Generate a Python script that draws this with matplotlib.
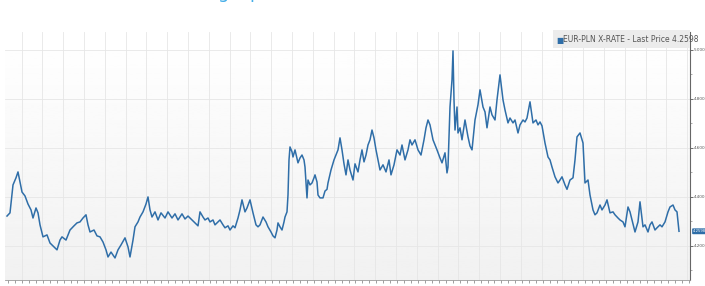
import numpy as np
import matplotlib
matplotlib.use("Agg")
import matplotlib.pyplot as plt
from matplotlib.ticker import MultipleLocator

# EUR-PLN rate (t = sample position along the time axis)
t = [7, 10, 13, 16, 18, 20, 22, 25, 28, 31, 33, 36, 38, 40, 43, 47, 50, 54, 57, 60,
     62, 66, 70, 74, 77, 80, 83, 86, 88, 90, 94, 97, 100, 103, 106, 108, 111, 115, 118, 121,
     125, 128, 130, 133, 135, 138, 140, 143, 146, 148, 150, 152, 155, 158, 161, 165, 168, 172, 175, 178,
     182, 185, 188, 192, 195, 198, 200, 203, 205, 208, 210, 213, 215, 218, 220, 223, 225, 228, 230, 233,
     235, 238, 240, 242, 245, 247, 250, 253, 256, 258, 260, 263, 266, 268, 271, 273, 275, 277, 278, 280,
     282, 284, 285, 287, 288, 289, 290, 292, 293, 295, 298, 300, 302, 304, 305, 307, 308, 310, 312, 314,
     315, 317, 318, 320, 323, 325, 327, 328, 331, 334, 336, 338, 340, 342, 344, 346, 348, 350, 353, 355,
     358, 360, 362, 364, 366, 368, 370, 372, 374, 376, 378, 380, 383, 386, 389, 391, 394, 397, 400, 402,
     405, 408, 410, 412, 415, 418, 421, 424, 426, 428, 430, 433, 437, 440, 442, 445, 447, 448, 450, 452,
     453, 454, 455, 457, 458, 460, 462, 465, 468, 470, 472, 475, 478, 480, 483, 485, 487, 490, 492, 495,
     497, 500, 503, 505, 508, 510, 513, 515, 518, 520, 523, 525, 527, 530, 533, 536, 538, 540, 542, 545,
     548, 550, 552, 555, 558, 560, 562, 565, 567, 570, 573, 575, 577, 580, 582, 583, 585, 588, 590, 593,
     595, 597, 600, 602, 605, 607, 610, 613, 615, 618, 620, 623, 625, 628, 630, 632, 635, 638, 640, 643,
     645, 648, 650, 652, 655, 657, 660, 662, 665, 668, 670, 673, 675, 677, 679]
rate = [4.322, 4.335, 4.449, 4.478, 4.502, 4.461, 4.420, 4.404, 4.371, 4.347, 4.314, 4.355, 4.335, 4.286, 4.237, 4.245, 4.212, 4.196, 4.184, 4.224,
        4.237, 4.224, 4.265, 4.282, 4.294, 4.298, 4.314, 4.327, 4.286, 4.257, 4.265, 4.241, 4.237, 4.216, 4.184, 4.155, 4.175, 4.151, 4.184, 4.204,
        4.233, 4.196, 4.155, 4.224, 4.278, 4.298, 4.318, 4.339, 4.371, 4.400, 4.347, 4.318, 4.339, 4.306, 4.335, 4.314, 4.339, 4.314, 4.331, 4.306,
        4.331, 4.310, 4.322, 4.306, 4.294, 4.282, 4.339, 4.318, 4.306, 4.314, 4.298, 4.306, 4.286, 4.298, 4.306, 4.286, 4.274, 4.282, 4.265, 4.282,
        4.274, 4.314, 4.347, 4.388, 4.339, 4.355, 4.388, 4.335, 4.286, 4.278, 4.286, 4.318, 4.298, 4.278, 4.257, 4.241, 4.233, 4.265, 4.294, 4.278,
        4.265, 4.298, 4.318, 4.339, 4.408, 4.551, 4.604, 4.584, 4.563, 4.592, 4.539, 4.559, 4.571, 4.551, 4.522, 4.396, 4.469, 4.449, 4.457, 4.478,
        4.490, 4.461, 4.408, 4.396, 4.396, 4.424, 4.431, 4.457, 4.510, 4.551, 4.571, 4.592, 4.641, 4.592, 4.535, 4.490, 4.551, 4.510, 4.469, 4.535,
        4.502, 4.551, 4.592, 4.543, 4.571, 4.612, 4.633, 4.673, 4.641, 4.592, 4.551, 4.510, 4.531, 4.502, 4.551, 4.490, 4.531, 4.592, 4.571, 4.612,
        4.551, 4.592, 4.633, 4.612, 4.633, 4.592, 4.571, 4.633, 4.682, 4.714, 4.694, 4.633, 4.592, 4.559, 4.539, 4.580, 4.498, 4.522, 4.767, 4.878,
        4.996, 4.796, 4.673, 4.767, 4.661, 4.682, 4.633, 4.714, 4.645, 4.608, 4.592, 4.714, 4.776, 4.837, 4.767, 4.747, 4.682, 4.767, 4.735, 4.714,
        4.796, 4.898, 4.796, 4.755, 4.702, 4.722, 4.702, 4.714, 4.661, 4.694, 4.714, 4.706, 4.722, 4.788, 4.702, 4.714, 4.694, 4.706, 4.690, 4.620,
        4.563, 4.551, 4.522, 4.482, 4.457, 4.469, 4.482, 4.449, 4.431, 4.469, 4.478, 4.551, 4.645, 4.661, 4.633, 4.620, 4.457, 4.469, 4.408, 4.347,
        4.327, 4.335, 4.367, 4.347, 4.367, 4.388, 4.335, 4.339, 4.327, 4.314, 4.306, 4.298, 4.278, 4.359, 4.339, 4.306, 4.257, 4.298, 4.380, 4.278,
        4.286, 4.257, 4.286, 4.298, 4.265, 4.274, 4.286, 4.278, 4.298, 4.339, 4.359, 4.367, 4.347, 4.339, 4.2598]
last_price = 4.2598
series_name = "EUR-PLN X-RATE"
yticks = [4.2, 4.4, 4.6, 4.8, 5.0]

line_col = "#2f6ea8"

fig = plt.figure(figsize=(7.05, 2.86), dpi=100)
ax = fig.add_axes([5 / 705, 1 - 280 / 286, 685 / 705, 248 / 286])
ax.set_xlim(5, 690)
ax.set_ylim(4.061, 5.073)

# white at the top fading to light grey at the bottom
grad = np.linspace(1.0, 0.945, 100).reshape(-1, 1)
ax.imshow(grad, cmap="gray", vmin=0, vmax=1, aspect="auto",
          extent=[0, 1, 0, 1], transform=ax.transAxes, zorder=0)

# grid
for gx in np.arange(292 - 20.8 * 14, 690, 20.8):
    ax.axvline(gx, color="#e6e6e6", lw=0.6, zorder=1)
for gy in yticks:
    ax.axhline(gy, color="#e6e6e6", lw=0.6, zorder=1)

ax.plot(t, rate, color=line_col, lw=1.1, zorder=3)

# axes styling
for s in ["left", "top"]:
    ax.spines[s].set_visible(False)
ax.spines["right"].set_color("#666666")
ax.spines["right"].set_linewidth(0.8)
ax.spines["bottom"].set_color("#999999")
ax.spines["bottom"].set_linewidth(0.6)
ax.yaxis.tick_right()
ax.set_yticks(yticks)
ax.set_yticklabels(["%.3f" % v for v in yticks], fontsize=3.0, color="#555555")
ax.yaxis.set_minor_locator(MultipleLocator(0.1))
ax.tick_params(axis="y", which="major", length=2, width=0.6, color="#555555", pad=0.5)
ax.tick_params(axis="y", which="minor", length=1.5, width=0.5, color="#888888")
ax.set_xticks(np.arange(8, 690, 6.95))
ax.set_xticklabels([])
ax.tick_params(axis="x", which="major", length=2, width=0.5, color="#777777", direction="out")

# last price tag
ax.annotate("%.4f" % last_price, xy=(1.0, last_price), xycoords=("axes fraction", "data"),
            xytext=(2.2, 0), textcoords="offset points", va="center", ha="left",
            fontsize=2.7, color="white",
            bbox=dict(boxstyle="round,pad=0.25", fc=line_col, ec="none"),
            annotation_clip=False)

# legend box
fig.patches.append(plt.Rectangle((553 / 705, 1 - 48 / 286), 137 / 705, 18 / 286,
                                 transform=fig.transFigure, fc="#ececec", ec="none", zorder=5))
fig.text(556 / 705, 1 - 40 / 286, "\u25A0", fontsize=5.5, color=line_col, va="center", zorder=6)
fig.text(563 / 705, 1 - 40 / 286, series_name + " - Last Price " + "%.4f" % last_price,
         fontsize=5.5, color="#555555", va="center", zorder=6)

# cut-off title descenders at the very top
fig.text(218 / 705, 1 + 1.5 / 286, "g", fontsize=13, color="#45aee8", va="baseline")
fig.text(249 / 705, 1 + 1.5 / 286, "p", fontsize=13, color="#45aee8", va="baseline")

fig.savefig("out.png", dpi=100, facecolor="white")
